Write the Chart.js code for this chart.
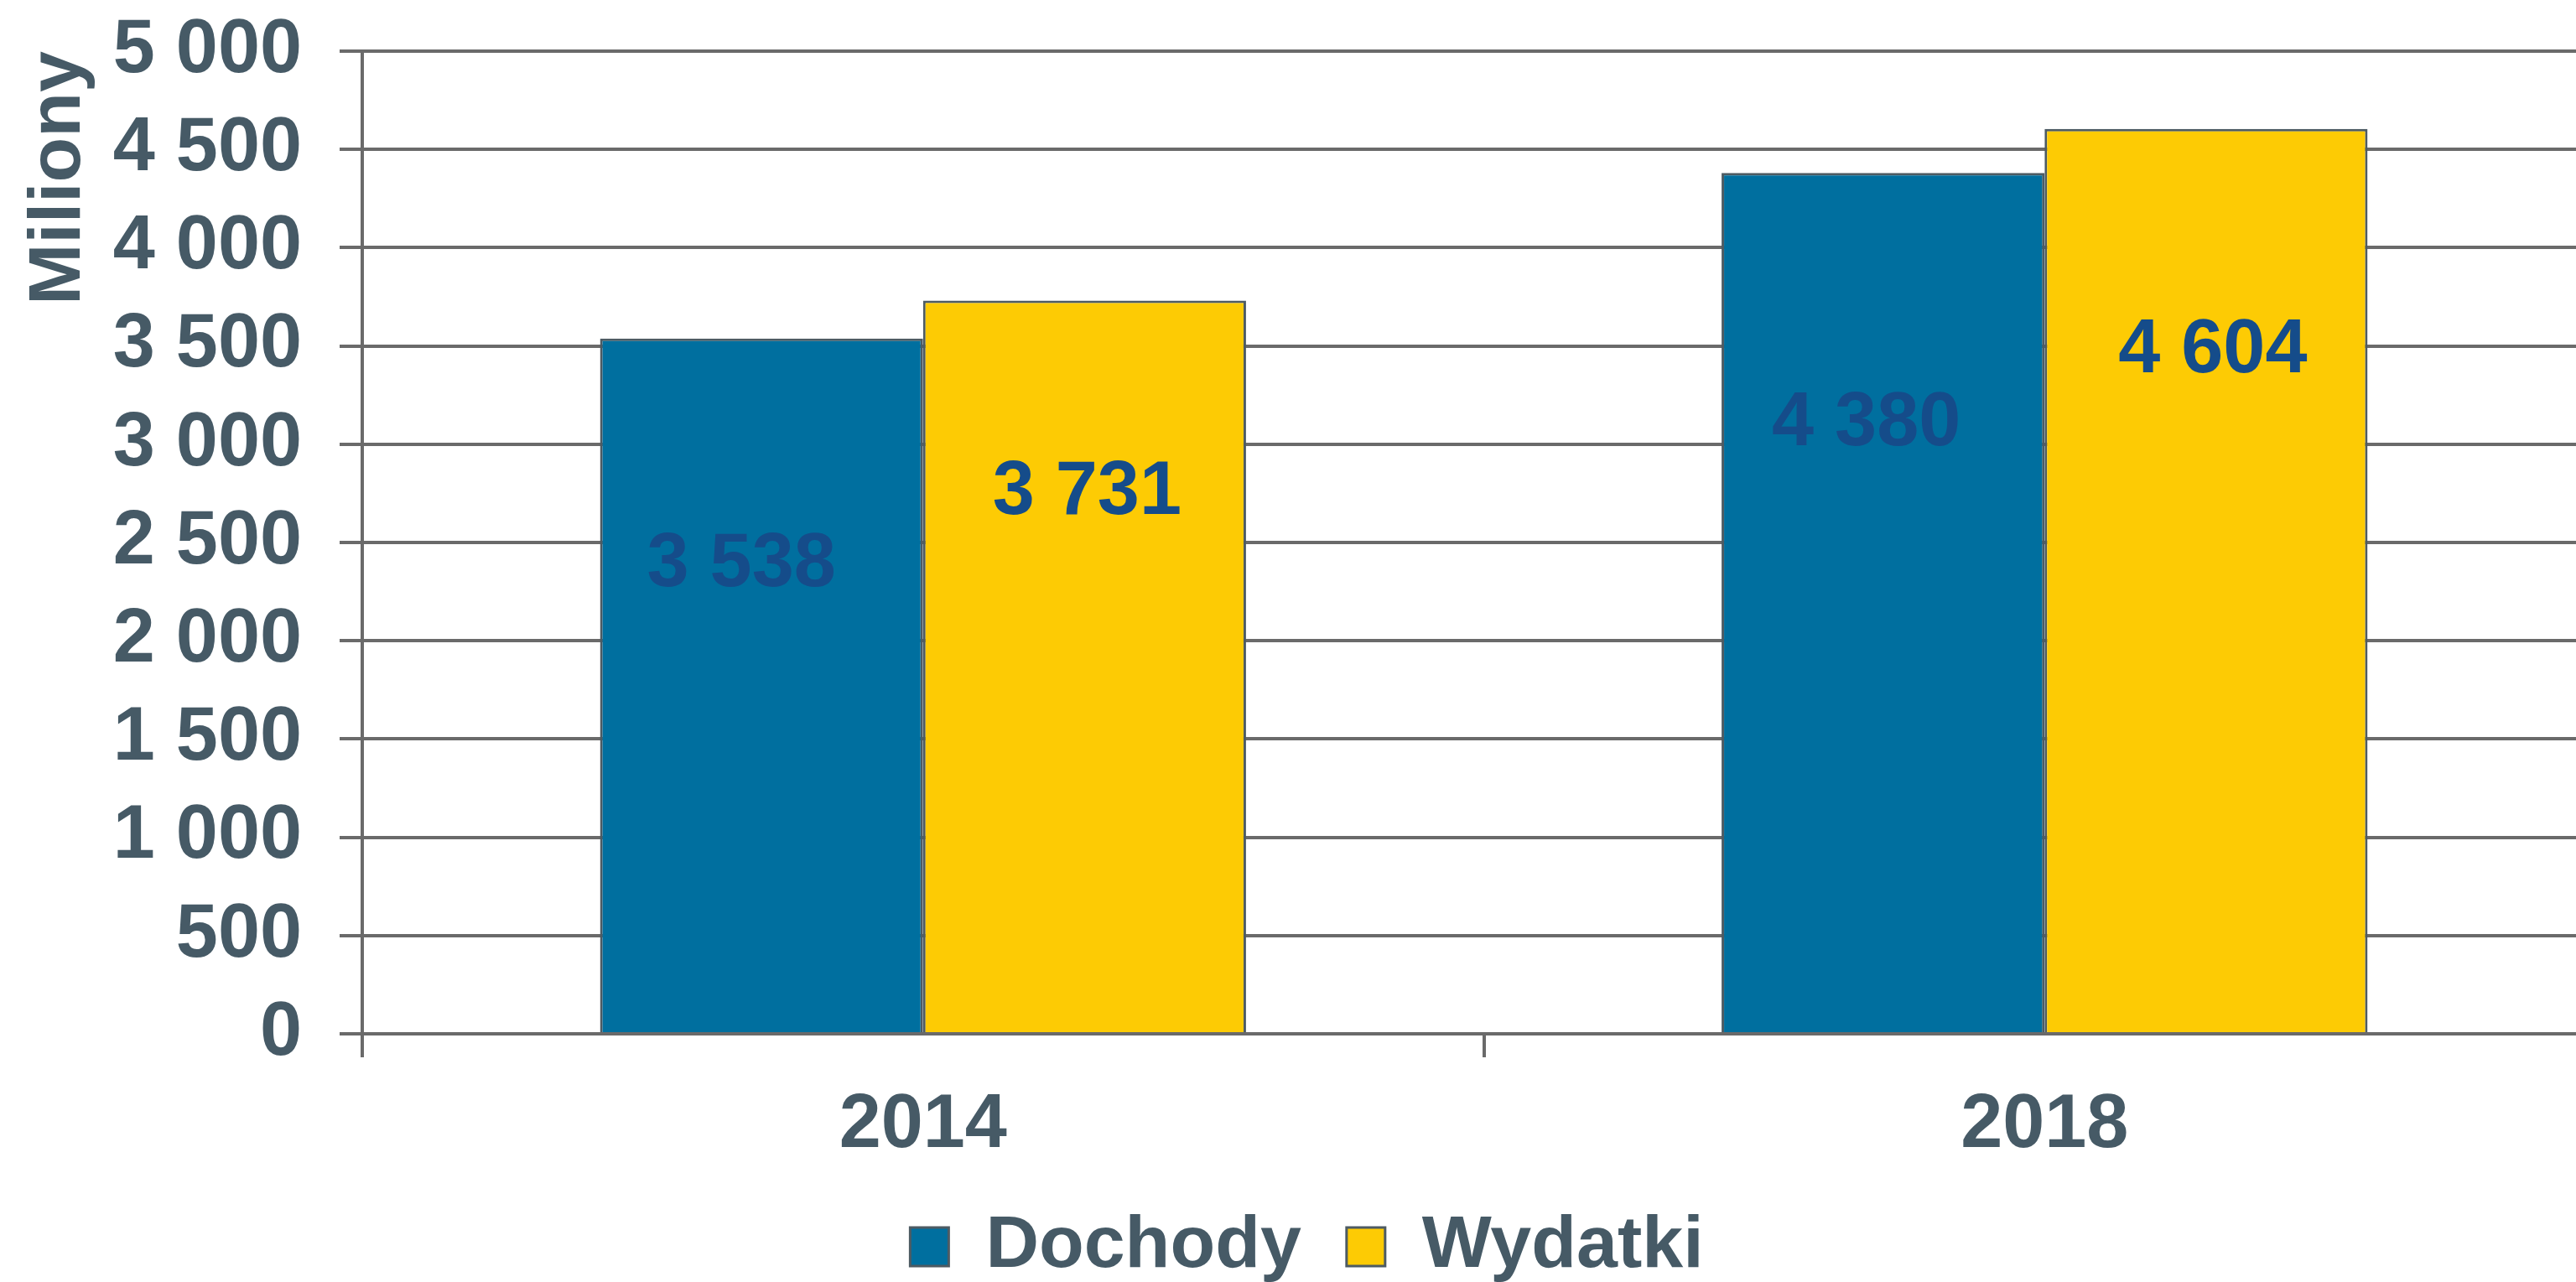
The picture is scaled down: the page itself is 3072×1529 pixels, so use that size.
<!DOCTYPE html>
<html>
<head>
<meta charset="utf-8">
<script src="https://cdn.jsdelivr.net/npm/chart.js@4"></script>
<style>
    html, body { margin: 0; padding: 0; background: #fff; overflow: hidden; }
    canvas { display: block; }
</style>
</head>
<body>
<canvas id="budgetChart" width="3108" height="1529"></canvas>
<script>
// Dochody / Wydatki, mln zł
const years = ['2014', '2018'];
const dochody = [3538, 4380];
const wydatki = [3731, 4604];
const yMin = 0;
const yMax = 5000;
const yStep = 500;

const TEXT = '#465a66';
const GRID = '#6a6a6a';
const FONT = '"Liberation Sans", Arial, sans-serif';

// thousands with a space: 3538 -> "3 538"
const fmt = v => String(v).replace(/\B(?=(\d{3})+(?!\d))/g, ' ');

/**
 * Value labels inside the bars (placed by hand in the original)
 */
const labelShift = [
    [{ dx: -24, dy: 270 }, { dx: -20, dy: 300 }],
    [{ dx: 3, dy: 230 }, { dx: 8, dy: 265 }]
];

const valueLabelsPlugin = {
    id: 'valueLabels',
    afterDatasetsDraw(chart) {
        const { ctx } = chart;
        ctx.save();
        ctx.font = `bold 90px ${FONT}`;
        ctx.fillStyle = '#154c8a';
        ctx.textAlign = 'center';
        ctx.textBaseline = 'middle';
        chart.data.datasets.forEach((ds, d) => {
            chart.getDatasetMeta(d).data.forEach((bar, i) => {
                const s = labelShift[d][i];
                ctx.fillText(fmt(ds.data[i]), bar.x + s.dx, bar.y + s.dy);
            });
        });
        ctx.restore();
    }
};

new Chart(document.getElementById('budgetChart').getContext('2d'), {
    type: 'bar',
    data: {
        labels: years,
        datasets: [
            {
                label: 'Dochody',
                data: dochody,
                backgroundColor: '#006f9f',
                borderColor: '#4d5b63',
                borderWidth: 3,
                barPercentage: 1,
                categoryPercentage: 0.576
            },
            {
                label: 'Wydatki',
                data: wydatki,
                backgroundColor: '#fdcb04',
                borderColor: '#4d5b63',
                borderWidth: 3,
                barPercentage: 1,
                categoryPercentage: 0.576
            }
        ]
    },
    options: {
        responsive: false,
        animation: false,
        layout: { padding: { left: 10, top: 61, right: 1, bottom: -12 } },
        scales: {
            y: {
                min: yMin,
                max: yMax,
                ticks: {
                    stepSize: yStep,
                    padding: 45,
                    color: TEXT,
                    // small lineHeight keeps the top label from pushing the plot down
                    font: { family: FONT, size: 90, weight: 'bold', lineHeight: 0.2 },
                    callback: v => fmt(v)
                },
                grid: { color: GRID, lineWidth: 4, tickLength: 27 },
                border: { display: true, color: GRID, width: 4 },
                title: {
                    display: true,
                    text: 'Miliony',
                    align: 'end',
                    color: TEXT,
                    padding: { top: 8, bottom: 0 },
                    font: { family: FONT, size: 88, weight: 'bold' }
                },
                afterFit: s => { s.width = 422; }
            },
            x: {
                ticks: {
                    padding: 28,
                    color: TEXT,
                    font: { family: FONT, size: 90, weight: 'bold' }
                },
                grid: { drawOnChartArea: false, color: GRID, lineWidth: 4, tickLength: 28 },
                border: { display: true, color: GRID, width: 4 },
                afterFit: s => { s.height = 156; }
            }
        },
        plugins: {
            legend: {
                position: 'bottom',
                labels: {
                    boxWidth: 46,
                    boxHeight: 46,
                    padding: 54,
                    color: TEXT,
                    font: { family: FONT, size: 88, weight: 'bold' }
                }
            },
            tooltip: { enabled: false }
        }
    },
    plugins: [valueLabelsPlugin]
});
</script>
</body>
</html>
